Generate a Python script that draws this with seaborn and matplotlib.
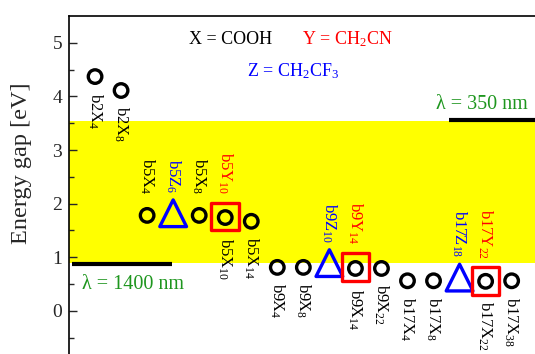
import re
import numpy as np
import pandas as pd
import matplotlib
matplotlib.use("Agg")
import matplotlib.pyplot as plt
import seaborn as sns

# X = COOH series (circles): slot along x, energy gap in eV
x_names = ["b2X4", "b2X8", "b5X4", "b5X8", "b5X10", "b5X14", "b9X4", "b9X8",
           "b9X14", "b9X22", "b17X4", "b17X8", "b17X22", "b17X38"]
x_pos = [1, 2, 3, 5, 6, 7, 8, 9, 11, 12, 13, 14, 16, 17]
x_gap = [4.37, 4.11, 1.78, 1.78, 1.74, 1.67, 0.81, 0.81, 0.79, 0.79,
         0.56, 0.56, 0.55, 0.56]

# Z = CH2CF3 series (triangles)
z_names = ["b5Z6", "b9Z10", "b17Z18"]
z_pos = [4, 10, 15]
z_gap = [1.82, 0.89, 0.62]

# Y = CH2CN series (squares)
y_names = ["b5Y10", "b9Y14", "b17Y22"]
y_pos = [6, 11, 16]
y_gap = [1.76, 0.82, 0.55]

# X labels that sit above their marker
x_above = ["b5X4", "b5X8"]

# wavelength window
lam_short, lam_long = 350, 1400
e_top = 1240.0 / lam_short
e_bot = 1240.0 / lam_long

sns.set_style("ticks")
plt.rcParams["font.family"] = ["Liberation Serif", "DejaVu Serif"]
plt.rcParams["mathtext.fontset"] = "custom"
plt.rcParams["mathtext.rm"] = "Liberation Serif"
plt.rcParams["mathtext.it"] = "Liberation Serif:italic"

green = "#1e961e"


def sub_label(name):
    m = re.match(r"(b\d+[XYZ])(\d+)", name)
    return m.group(1) + r"$_{\mathrm{" + m.group(2) + "}}$"


fig = plt.figure(figsize=(5.35, 3.54), dpi=100)
ax = fig.add_axes([0.129, -0.0294, 0.876, 0.9842])

# visible window (yellow band)
ax.axhspan(e_bot, e_top, color="#ffff00", lw=0, zorder=0)
ax.plot([0.12, 3.96], [e_bot - 0.015, e_bot - 0.015], color="black", lw=3, zorder=1,
        solid_capstyle="butt")
ax.plot([14.6, 18], [e_top + 0.025, e_top + 0.025], color="black", lw=3, zorder=1,
        solid_capstyle="butt")

df_x = pd.DataFrame({"pos": x_pos, "gap": x_gap, "name": x_names})
df_z = pd.DataFrame({"pos": z_pos, "gap": z_gap, "name": z_names})
df_y = pd.DataFrame({"pos": y_pos, "gap": y_gap, "name": y_names})

sns.scatterplot(data=df_x, x="pos", y="gap", marker="o", s=95,
                facecolors="none", edgecolor="black", linewidth=2.4, ax=ax, zorder=3)
sns.scatterplot(data=df_z, x="pos", y="gap", marker="^", s=370,
                facecolors="none", edgecolor="#0000ff", linewidth=2.4, ax=ax, zorder=3)
sns.scatterplot(data=df_y, x="pos", y="gap", marker="s", s=400,
                facecolors="none", edgecolor="#ff0000", linewidth=2.4, ax=ax, zorder=4)

lab_fs = 12
for name, p, g in zip(x_names, x_pos, x_gap):
    if name in x_above:
        ax.annotate(sub_label(name), (p, g), xytext=(0, 15), textcoords="offset points",
                    rotation=-90, ha="center", va="bottom", fontsize=lab_fs, color="black")
    else:
        dy = -14.5 if p in y_pos else -11.5
        ax.annotate(sub_label(name), (p, g), xytext=(0, dy), textcoords="offset points",
                    rotation=-90, ha="center", va="top", fontsize=lab_fs, color="black")
for name, p, g in zip(z_names, z_pos, z_gap):
    ax.annotate(sub_label(name), (p, g), xytext=(0, 14.5), textcoords="offset points",
                rotation=-90, ha="center", va="bottom", fontsize=lab_fs, color="#0000ff")
for name, p, g in zip(y_names, y_pos, y_gap):
    ax.annotate(sub_label(name), (p, g), xytext=(0, 16), textcoords="offset points",
                rotation=-90, ha="center", va="bottom", fontsize=lab_fs, color="#ff0000")

# substituent key
ax.text(4.61, 4.97, "X = COOH", fontsize=13, color="black")
ax.text(8.94, 4.97, r"Y = CH$_{\mathrm{2}}$CN", fontsize=13, color="#ff0000")
ax.text(6.84, 4.37, r"Z = CH$_{\mathrm{2}}$CF$_{\mathrm{3}}$", fontsize=13, color="#0000ff")

ax.text(14.09, 3.76, "λ = %d nm" % lam_short, fontsize=14.5, color=green)
ax.text(0.5, 0.40, "λ = %d nm" % lam_long, fontsize=14.5, color=green)

ax.set_xlim(0, 18)
ax.set_ylim(-1, 5.5)
ax.set_yticks([0, 1, 2, 3, 4, 5])
ax.set_yticks(np.arange(-0.5, 5.5, 1.0), minor=True)
ax.set_xticks([])
ax.set_xlabel("")
ax.set_ylabel("Energy gap [eV]", fontsize=17.5)
ax.yaxis.set_label_coords(-0.079, 0.577)
ax.tick_params(axis="y", which="major", direction="in", length=6, width=1,
               labelsize=14, pad=5)
ax.tick_params(axis="y", which="minor", direction="in", length=3.5, width=1)
for sp in ax.spines.values():
    sp.set_linewidth(1.2)
    sp.set_color("black")

fig.savefig("out.png", dpi=100)
